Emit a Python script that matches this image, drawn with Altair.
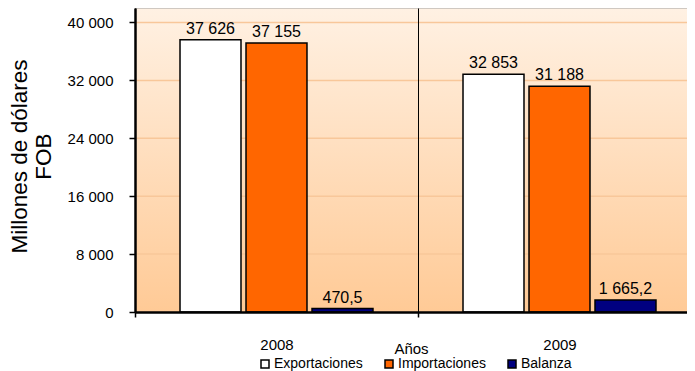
import altair as alt
import pandas as pd

FONT = "Liberation Sans"

years = ["2008", "2009"]
series = ["Exportaciones", "Importaciones", "Balanza"]
exportaciones = [37626, 32853]
importaciones = [37155, 31188]
balanza = [470.5, 1665.2]
y_ticks = [0, 8000, 16000, 24000, 32000, 40000]
colors = ["#FFFFFF", "#FF6600", "#000080"]


def fmt(v):
    if float(v).is_integer():
        return f"{int(v):,}".replace(",", " ")
    return f"{v:,.1f}".replace(",", " ").replace(".", ",")


rows = []
for i, yr in enumerate(years):
    for s, vals in zip(series, [exportaciones, importaciones, balanza]):
        rows.append({"year": yr, "serie": s, "value": vals[i], "label": fmt(vals[i])})
df = pd.DataFrame(rows)
grid_df = pd.DataFrame({"value": y_ticks})
bg_df = pd.DataFrame({"a": [0]})

x_enc = alt.X(
    "year:N",
    sort=years,
    scale=alt.Scale(domain=years, range=[0, 566], paddingInner=0, paddingOuter=0),
    axis=alt.Axis(
        title="Años", tickBand="extent", grid=True, gridColor="black", gridWidth=1,
        domainColor="black", domainWidth=2.5, tickColor="black", tickSize=5, tickWidth=1.5,
        labelAngle=0, labelPadding=20, labelFont=FONT, labelFontSize=15, labelColor="black",
        titleFont=FONT, titleFontSize=15, titleFontWeight="normal", titleColor="black",
        titleX=276, titleY=41, titleBaseline="alphabetic", titleAlign="center", zindex=1,
    ),
)
xoff_enc = alt.XOffset("serie:N", sort=series,
                       scale=alt.Scale(domain=series, paddingInner=0.076, paddingOuter=0.682))
y_axis = alt.Axis(
    values=y_ticks, title=["Millones de dólares", "FOB"], grid=False,
    domainColor="black", domainWidth=2.5, tickColor="black", tickSize=6, tickWidth=1.5,
    labelPadding=16, labelExpr="replace(format(datum.value, ','), ',', ' ')",
    labelFont=FONT, labelFontSize=15, labelColor="black",
    titleFont=FONT, titleFontSize=22.5, titleFontWeight="normal", titleColor="black",
    titleAngle=270, titleX=-116, titleY=148, titleAlign="center", titleBaseline="middle",
    titleLineHeight=24.5, zindex=1,
)
y_enc = alt.Y("value:Q", scale=alt.Scale(domain=[0, 42000], nice=False, zero=True), axis=y_axis)

background = alt.Chart(bg_df).mark_rect(
    color=alt.Gradient(
        gradient="linear", x1=0, y1=0, x2=0, y2=1,
        stops=[alt.GradientStop(color="#FFF1E3", offset=0),
               alt.GradientStop(color="#FFCA96", offset=1)],
    )
).encode(x=alt.value(0), x2=alt.value(566), y=alt.value(0), y2=alt.value(304))

gridlines = alt.Chart(grid_df).mark_rule(color="#F8C79A", strokeWidth=1.5).encode(
    y=y_enc, x=alt.value(0), x2=alt.value(566)
)

base = alt.Chart(df).encode(x=x_enc, xOffset=xoff_enc, y=y_enc)

bars = base.mark_bar(stroke="black", strokeWidth=1.5).encode(
    color=alt.Color(
        "serie:N",
        sort=series,
        scale=alt.Scale(domain=series, range=colors),
        legend=alt.Legend(
            title=None, orient="none", legendX=123, legendY=349, direction="horizontal",
            symbolType="square", symbolSize=64, symbolStrokeColor="black",
            symbolStrokeWidth=1.5, labelFont=FONT, labelFontSize=14, labelColor="black",
            labelOffset=2, columnPadding=19, padding=0,
        ),
    )
)

texts = base.mark_text(baseline="bottom", dy=-3, fontSize=16, font=FONT, color="black").encode(
    text="label:N"
)

top_line = alt.Chart(bg_df).mark_rule(color="#A0A0A0", strokeWidth=1).encode(
    x=alt.value(0), x2=alt.value(566), y=alt.value(0)
)

chart = alt.layer(background, gridlines, bars, texts, top_line).properties(
    width=552,
    height=304,
    autosize=alt.AutoSizeParams(type="none"),
    padding={"left": 127, "top": 0, "right": 0, "bottom": 59},
    background="white",
).configure_view(stroke=None)

chart.save("out.html", embed_options={"renderer": "svg", "actions": False})
